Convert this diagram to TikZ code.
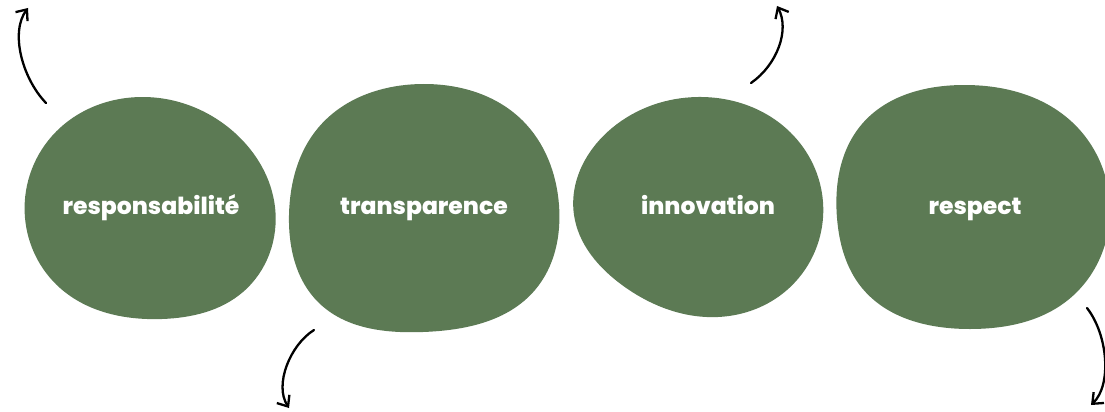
\documentclass[tikz,border=0pt]{standalone}
\usepackage{fontspec}
\setmainfont{Poppins}[BoldFont={Poppins ExtraBold}]
\usepackage{tikz}
\usetikzlibrary{arrows.meta,hobby}
\definecolor{vertsauge}{RGB}{92,122,84}

\begin{document}
\begin{tikzpicture}[x=1pt,y=-1pt,>={Straight Barb[length=9pt,width=15pt]},line width=2.3pt]
	\tikzstyle{blob}=[fill=vertsauge,draw=none,use Hobby shortcut,closed=true]
	\tikzstyle{valeur}=[anchor=base,text=white,font=\fontsize{23.5}{28}\selectfont\bfseries,inner sep=0pt]
	\tikzstyle{fleche}=[->,draw=black,line cap=round]
	
	\useasboundingbox (0,0) rectangle (1105,412);
	\clip (0,0) rectangle (1105,412);
	
	% les formes
	\fill[blob] (142,97) .. (235,133) .. (275,207) .. (243,292) .. (162,319) .. (60,288) .. (25,218) .. (52,136);
	\fill[blob] (423,84) .. (522,120) .. (559,205) .. (535,290) .. (423,332) .. (318,302) .. (289,215) .. (318,128);
	\fill[blob] (698,97) .. (790,132) .. (823,202) .. (787,290) .. (718,317) .. (622,285) .. (574,215) .. (612,128);
	\fill[blob] (963,85) .. (1072,122) .. (1110,212) .. (1068,300) .. (970,329) .. (862,288) .. (837,218) .. (862,124);
	
	\node[valeur] (respons) at (151,214) {responsabilité};
	\node[valeur] (transp)  at (424,214) {transparence};
	\node[valeur] (innov)   at (708,214) {innovation};
	\node[valeur] (respect) at (975,214) {respect};
	
	% les fleches
	\coordinate (respons-a) at (46,103);
	\coordinate (respons-b) at (28,8);
	\coordinate (transp-a) at (314,330);
	\coordinate (transp-b) at (289,408);
	\coordinate (innov-a) at (751,83);
	\coordinate (innov-b) at (777,6);
	\coordinate (respect-a) at (1087,308);
	\coordinate (respect-b) at (1091,405);
	
	\draw[fleche] (respons-a) .. controls (22,78) and (10,32) .. (respons-b);
	\draw[fleche] (transp-a) .. controls (290,345) and (274,385) .. (transp-b);
	\draw[fleche] (innov-a) .. controls (777,65) and (790,30) .. (innov-b);
	\draw[fleche] (respect-a) .. controls (1108,335) and (1112,385) .. (respect-b);
	
\end{tikzpicture}
\end{document}
